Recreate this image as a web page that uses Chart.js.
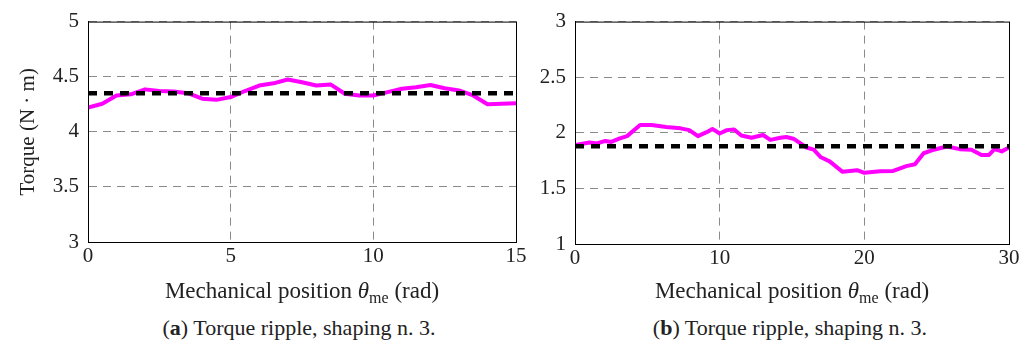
<!DOCTYPE html>
<html>
<head>
<meta charset="utf-8">
<script src="https://cdn.jsdelivr.net/npm/chart.js@4.4.1/dist/chart.umd.min.js"></script>
<style>
  body { margin: 0; background: #fff; width: 1034px; height: 354px; position: relative; overflow: hidden;
         font-family: 'Times New Roman', 'Liberation Serif', 'DejaVu Serif', serif; color: #222; }
  canvas { position: absolute; top: 0; }
  #chartA { left: 0; }
  #chartB { left: 530px; }
  .xtitle { position: absolute; top: 278px; font-size: 23px; white-space: nowrap; transform: translateX(-50%); }
  .xtitle .sub { font-size: 16px; position: relative; top: 5px; }
  .caption { position: absolute; top: 315px; font-size: 22px; white-space: nowrap; transform: translateX(-50%); }
</style>
</head>
<body>
<canvas id="chartA" width="530" height="280"></canvas>
<canvas id="chartB" width="504" height="280"></canvas>
<div class="xtitle" style="left:302px">Mechanical position <i>θ</i><span class="sub">me</span> (rad)</div>
<div class="xtitle" style="left:792px">Mechanical position <i>θ</i><span class="sub">me</span> (rad)</div>
<div class="caption" style="left:299px">(<b>a</b>) Torque ripple, shaping n. 3.</div>
<div class="caption" style="left:790px">(<b>b</b>) Torque ripple, shaping n. 3.</div>
<script>
// (a) shaping n. 3, 0..15 rad
const thetaA  = [0, 0.5, 1, 1.5, 2, 2.5, 3, 3.5, 4, 4.5, 5, 5.5, 6, 6.5, 7, 7.5, 8, 8.5, 9, 9.5,
                 10, 10.5, 11, 11.5, 12, 12.5, 13, 13.5, 14, 14.5, 15];
const torqueA = [4.22, 4.255, 4.33, 4.34, 4.385, 4.37, 4.365, 4.35, 4.30, 4.29, 4.315, 4.37, 4.42, 4.44, 4.475, 4.45,
                 4.42, 4.43, 4.345, 4.33, 4.33, 4.36, 4.39, 4.405, 4.425, 4.395, 4.375, 4.33, 4.25, 4.255, 4.26];
const meanA = 4.35;

// (b) shaping n. 3, 0..30 rad
const thetaB  = [0, 1.0, 1.5, 2.1, 2.5, 3.1, 3.6, 4.5, 5.3, 6.3, 7.3, 7.9, 8.5, 9.1, 9.5, 10.0, 10.5, 11.0, 11.5,
                 12.2, 13.0, 13.5, 14.2, 14.6, 15.1, 16.0, 16.5, 17.0, 17.6, 18.5, 19.5, 20.0, 21.1, 22.0, 22.9,
                 23.5, 24.1, 24.8, 25.7, 26.6, 27.4, 28.1, 28.6, 29.0, 29.5, 30.0];
const torqueB = [1.89, 1.912, 1.904, 1.927, 1.918, 1.95, 1.97, 2.07, 2.07, 2.053, 2.04, 2.024, 1.97, 2.006, 2.035,
                 1.994, 2.024, 2.03, 1.976, 1.956, 1.98, 1.936, 1.956, 1.962, 1.947, 1.868, 1.848, 1.78, 1.743,
                 1.649, 1.664, 1.64, 1.655, 1.657, 1.70, 1.717, 1.816, 1.848, 1.877, 1.853, 1.848, 1.80, 1.80,
                 1.853, 1.833, 1.868];
const meanB = 1.88;

const FONT = "'Times New Roman', 'Liberation Serif', 'DejaVu Serif', serif";

const framePlugin = {
  id: 'frame',
  afterDraw(chart) {
    const { ctx, chartArea: a } = chart;
    ctx.save();
    ctx.strokeStyle = '#000';
    ctx.lineWidth = 1;
    ctx.strokeRect(a.left + 0.5, a.top + 0.5, a.right - a.left, a.bottom - a.top);
    ctx.restore();
  }
};

function buildChart(id, xs, ys, mean, cfg) {
  const pts = xs.map((x, i) => ({ x, y: ys[i] }));
  const meanPts = [{ x: cfg.xMin, y: mean }, { x: cfg.xMax, y: mean }];
  const gridOpts = { color: '#8a8a8a', lineWidth: 1, drawTicks: false };
  const borderOpts = { color: '#000', width: 1, dash: [8, 6] };

  return new Chart(document.getElementById(id), {
    type: 'line',
    data: {
      datasets: [
        { data: meanPts, borderColor: '#000', borderWidth: 4.5, borderDash: [9, 7],
          pointRadius: 0, tension: 0 },
        { data: pts, borderColor: '#ff00ff', borderWidth: 4, pointRadius: 0,
          tension: 0, borderJoinStyle: 'round' }
      ]
    },
    options: {
      responsive: false,
      animation: false,
      layout: { padding: cfg.padding },
      plugins: { legend: { display: false }, tooltip: { enabled: false } },
      scales: {
        x: {
          type: 'linear', min: cfg.xMin, max: cfg.xMax,
          ticks: { stepSize: cfg.xStep, color: '#222', padding: 2, font: { size: 21, family: FONT },
                   callback: v => String(v) },
          grid: gridOpts, border: borderOpts,
          afterFit: s => { s.height = cfg.xHeight; }
        },
        y: {
          min: cfg.yMin, max: cfg.yMax,
          ticks: { stepSize: 0.5, color: '#222', padding: 9, font: { size: 21, family: FONT },
                   callback: v => String(v) },
          grid: gridOpts, border: borderOpts,
          title: cfg.yTitle ? { display: true, text: cfg.yTitle, color: '#222',
                                font: { size: 21, family: FONT }, padding: { top: 16, bottom: 0 } }
                            : { display: false },
          afterFit: s => { s.width = cfg.yWidth; }
        }
      }
    },
    plugins: [framePlugin]
  });
}

buildChart('chartA', thetaA, torqueA, meanA, {
  xMin: 0, xMax: 15, xStep: 5, yMin: 3, yMax: 5,
  yTitle: 'Torque (N · m)',
  padding: { top: 18, right: 14, bottom: 0, left: 0 },
  yWidth: 88, xHeight: 38
});

buildChart('chartB', thetaB, torqueB, meanB, {
  xMin: 0, xMax: 30, xStep: 10, yMin: 1, yMax: 3,
  yTitle: null,
  padding: { top: 16, right: 25, bottom: 0, left: 0 },
  yWidth: 45, xHeight: 36
});
</script>
</body>
</html>
